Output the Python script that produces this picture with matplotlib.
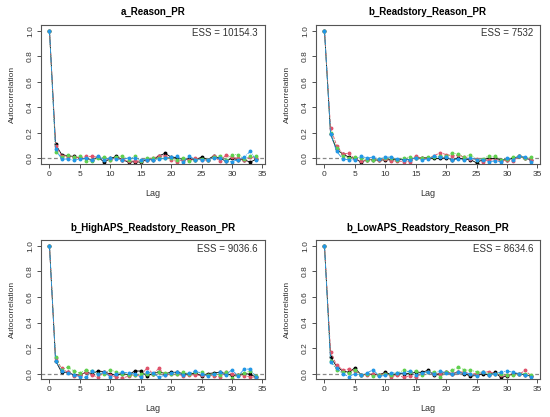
import numpy as np
import matplotlib
matplotlib.use('Agg')
import matplotlib.pyplot as plt

plt.rcParams['font.family'] = ['Liberation Sans', 'DejaVu Sans']

titles = ['a_Reason_PR', 'b_Readstory_Reason_PR',
          'b_HighAPS_Readstory_Reason_PR', 'b_LowAPS_Readstory_Reason_PR']
ess = ['10154.3', '7532', '9036.6', '8634.6']
chain_colors = ['#000000', '#DF536B', '#61D04F', '#2297E6']
chain_styles = ['-', '--', ':', '-.']

# autocorrelation per chain (black, red, green, blue), lags 0..34
acf_a = [
    [1, 0.11, 0.03, 0.02, 0.015, 0.0, 0.0, -0.01, 0.01, -0.03, 0.0, 0.015, -0.01, -0.03, -0.025, -0.03, -0.01, -0.01,
     0.02, 0.04, 0.01, 0.005, -0.01, -0.005, -0.01, 0.01, -0.01, 0.02, 0.0, -0.02, 0.0, -0.01, -0.01, -0.03, -0.005],
    [1, 0.10, 0.02, 0.02, 0.01, 0.005, 0.015, 0.015, 0.01, 0.0, -0.01, 0.005, -0.01, -0.02, -0.02, -0.02, -0.01, 0.0,
     0.02, 0.02, -0.01, -0.025, -0.01, -0.01, 0.0, -0.01, -0.015, 0.015, -0.02, 0.025, 0.01, 0.0, -0.01, 0.01, 0.0],
    [1, 0.05, 0.01, 0.025, 0.01, 0.015, -0.02, -0.02, 0.0, 0.01, -0.01, 0.01, 0.02, -0.01, 0.015, -0.02, 0.0, 0.005,
     0.0, 0.0, 0.0, -0.01, 0.005, -0.02, -0.01, -0.005, -0.01, 0.01, 0.02, -0.01, 0.03, 0.03, -0.005, 0.015, 0.015],
    [1, 0.07, -0.005, -0.005, -0.015, -0.005, 0.0, -0.01, 0.015, -0.01, 0.005, -0.005, -0.01, 0.005, 0.0, -0.01, -0.01,
     -0.01, -0.005, 0.0, 0.01, 0.015, -0.025, 0.015, -0.01, -0.01, -0.01, 0.005, 0.0, -0.02, -0.025, -0.01, 0.01,
     0.055, -0.01],
]
acf_b = [
    [1, 0.19, 0.07, 0.035, 0.01, 0.0, -0.03, -0.01, -0.01, -0.015, -0.01, -0.01, -0.01, -0.01, -0.01, 0.005, 0.005,
     0.005, 0.0, 0.0, 0.005, -0.01, 0.0, -0.005, -0.01, -0.035, -0.01, 0.0, 0.0, -0.01, -0.01, 0.0, 0.015, 0.005,
     -0.015],
    [1, 0.24, 0.10, 0.035, 0.04, -0.005, -0.02, -0.015, -0.005, -0.01, -0.005, -0.02, -0.02, -0.025, -0.025, 0.02,
     0.0, 0.0, 0.02, 0.045, 0.03, 0.02, 0.025, 0.01, -0.005, -0.005, -0.03, -0.01, -0.01, -0.02, -0.015, -0.02, 0.015,
     0.0, -0.01],
    [1, 0.20, 0.08, 0.02, 0.005, 0.01, 0.0, -0.01, -0.01, -0.005, 0.005, 0.0, -0.01, 0.005, 0.01, 0.0, 0.005, 0.01,
     0.01, 0.02, 0.015, 0.04, 0.035, 0.01, 0.03, -0.01, -0.005, 0.02, 0.015, -0.01, -0.005, 0.01, 0.015, 0.0, 0.01],
    [1, 0.19, 0.055, -0.005, -0.01, -0.01, 0.015, 0.005, 0.01, -0.005, 0.01, 0.01, -0.005, -0.01, -0.01, 0.005, -0.01,
     -0.005, 0.015, 0.01, 0.01, -0.01, -0.005, -0.01, 0.005, -0.01, -0.01, -0.025, -0.02, -0.025, 0.005, -0.01, 0.02,
     0.01, -0.025],
]
acf_high = [
    [1, 0.10, 0.01, 0.01, -0.01, -0.01, 0.01, 0.0, 0.02, 0.015, -0.005, -0.01, 0.0, -0.01, 0.02, 0.02, -0.02, 0.0,
     0.015, 0.0, 0.01, 0.01, 0.0, -0.005, 0.005, -0.02, 0.0, 0.005, 0.01, 0.0, -0.015, -0.01, 0.0, -0.005, -0.03],
    [1, 0.12, 0.04, 0.01, -0.02, -0.01, 0.01, -0.01, -0.03, 0.01, -0.01, -0.03, -0.035, -0.02, -0.01, -0.02, 0.045,
     0.0, 0.04, -0.01, -0.005, 0.0, -0.02, -0.01, -0.01, -0.015, -0.01, -0.02, -0.025, 0.01, 0.0, -0.01, -0.02,
     -0.025, -0.03],
    [1, 0.13, 0.03, 0.05, 0.02, 0.005, 0.03, 0.02, 0.0, 0.0, 0.03, 0.01, 0.0, -0.01, -0.015, 0.0, 0.0, 0.0, 0.01,
     0.005, 0.0, -0.005, 0.01, 0.0, 0.01, 0.01, -0.01, 0.0, -0.01, 0.01, -0.035, -0.01, 0.005, 0.02, -0.02],
    [1, 0.10, 0.02, 0.005, -0.01, -0.025, -0.03, 0.02, -0.005, 0.01, -0.025, 0.0, 0.01, 0.005, 0.0, -0.03, 0.01,
     0.005, -0.03, -0.01, 0.005, 0.01, -0.01, 0.005, 0.02, 0.0, -0.02, -0.005, 0.01, -0.01, 0.03, -0.02, 0.035, 0.035,
     -0.03],
]
acf_low = [
    [1, 0.13, 0.055, 0.02, 0.01, 0.045, -0.01, -0.005, -0.005, -0.01, 0.01, -0.01, 0.0, 0.0, 0.0, 0.01, 0.01, 0.025,
     -0.01, 0.0, 0.01, 0.0, 0.01, 0.0, -0.02, -0.015, 0.0, -0.01, 0.01, -0.03, -0.02, 0.0, 0.0, -0.01, -0.02],
    [1, 0.17, 0.065, 0.03, 0.035, 0.02, -0.01, -0.01, 0.0, -0.01, 0.0, -0.025, -0.01, -0.03, -0.02, -0.03, 0.0, 0.015,
     0.0, 0.0, 0.01, 0.0, 0.015, 0.01, 0.0, 0.0, 0.01, 0.015, 0.0, -0.01, -0.015, 0.0, -0.005, 0.025, -0.02],
    [1, 0.10, 0.03, 0.01, 0.005, 0.025, -0.01, -0.005, -0.02, -0.015, 0.0, -0.01, 0.005, 0.025, 0.015, 0.02, -0.01,
     0.015, 0.01, -0.03, 0.01, 0.025, 0.05, 0.03, 0.025, 0.015, 0.01, 0.0, 0.0, 0.0, -0.01, -0.015, 0.0, 0.0, -0.01],
    [1, 0.09, 0.04, 0.0, -0.025, 0.0, -0.01, 0.005, 0.03, -0.02, -0.015, 0.005, 0.005, 0.005, 0.02, -0.01, 0.005,
     0.015, 0.0, 0.02, 0.005, -0.005, 0.01, 0.005, 0.0, -0.02, 0.015, -0.01, 0.0, 0.01, 0.02, 0.01, 0.0, -0.01, -0.025],
]
panels = [acf_a, acf_b, acf_high, acf_low]

fig = plt.figure(figsize=(5.5, 4.17), dpi=100)
boxes = [(0.0745, 0.607), (0.5745, 0.607), (0.0745, 0.091), (0.5745, 0.091)]

for k in range(4):
    ax = fig.add_axes([boxes[k][0], boxes[k][1], 0.407, 0.333])
    for c in range(4):
        vals = panels[k][c]
        lags = np.arange(len(vals))
        ax.plot(lags, vals, color=chain_colors[c], ls=chain_styles[c], lw=0.6,
                marker='o', ms=1.8, mec=chain_colors[c], mfc=chain_colors[c])
    ax.axhline(0, color='#888888', ls=(0, (3, 2)), lw=0.9, zorder=0)
    ax.set_xlim(-1.4, 35.4)
    ax.set_ylim(-0.043, 1.045)
    ax.set_xticks(np.arange(0, 36, 5))
    ax.set_yticks(np.arange(0, 1.01, 0.2))
    ax.set_yticklabels(['%.1f' % v for v in np.arange(0, 1.01, 0.2)], rotation=90, va='center')
    ax.tick_params(labelsize=6, length=3, width=0.6, colors='#333333', pad=2)
    for s in ax.spines.values():
        s.set_color('#555555')
        s.set_linewidth(0.8)
    ax.set_xlabel('Lag', fontsize=6.5, color='#333333', labelpad=8)
    ax.set_ylabel('Autocorrelation', fontsize=6, color='#333333', labelpad=8)
    ax.set_title(titles[k], fontsize=7, fontweight='bold', pad=7)
    ax.text(0.97, 0.94, 'ESS = ' + ess[k], transform=ax.transAxes,
            ha='right', va='center', fontsize=7, color='#333333')

fig.savefig('out.png', dpi=100)
